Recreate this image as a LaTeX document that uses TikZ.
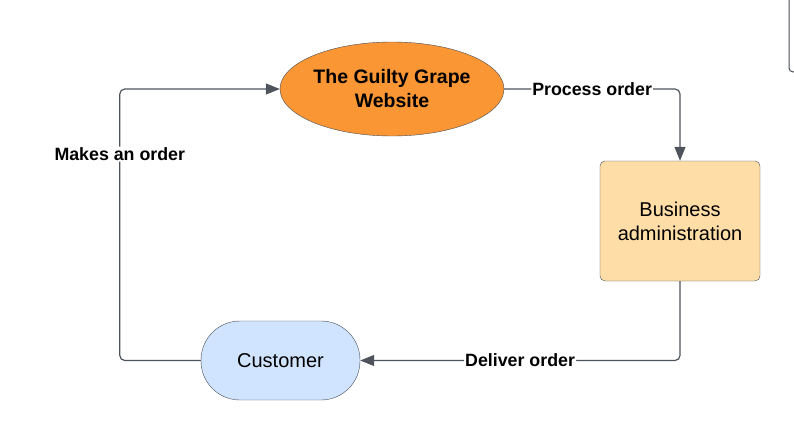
\documentclass[tikz,border=0pt]{standalone}
\usepackage{fontspec}
\setmainfont{Liberation Sans}
\usetikzlibrary{arrows.meta, shapes.geometric, positioning}
\definecolor{grapeorange}{HTML}{FB9634}
\definecolor{adminfill}{HTML}{FFDDA6}
\definecolor{custfill}{HTML}{D0E4FF}
\definecolor{edgegray}{HTML}{474D56}
\definecolor{linegray}{HTML}{4E545C}

\begin{document}
\begin{tikzpicture}[x=1pt, y=-1pt,
    site/.style={ellipse, draw=edgegray, fill=grapeorange,
                 minimum width=224pt, minimum height=94pt, inner sep=0pt,
                 align=center, font=\fontsize{19.5}{24}\selectfont\bfseries},
    admin/.style={rectangle, draw=edgegray, fill=adminfill, rounded corners=5pt,
                  minimum width=160pt, minimum height=120pt,
                  align=center, font=\fontsize{20}{24}\selectfont},
    cust/.style={rectangle, draw=edgegray, fill=custfill, rounded corners=39pt,
                 minimum width=159pt, minimum height=79pt,
                 font=\fontsize{20}{24}\selectfont},
    lbl/.style={fill=white, text=black, inner sep=1pt,
                font=\fontsize{17.8}{20}\selectfont\bfseries},
    arr/.style={-{Triangle[length=14pt, width=11pt]}, line width=1.2pt,
                linegray, rounded corners=5pt}
  ]
  \useasboundingbox (0,0) rectangle (794,441);

  \node[site] (site) at (392,89) {The Guilty Grape\\Website};
  \node[admin] (admin) at (680,221) {Business\\administration};
  \node[cust] (cust) at (280.5,360.5) {Customer};

  \draw[arr] (site.east) -| node[lbl, pos=0.25] {Process order} (admin.north);
  \draw[arr] (admin.south) |- node[lbl, pos=0.75] {Deliver order} (cust.east);
  \draw[arr] (cust.west) -- ++(-81,0) |- node[lbl, pos=0.38] {Makes an order} (site.west);

  % cut-off shape at the right edge
  \draw[edgegray, line width=1pt, rounded corners=4pt] (789,-2) -- (789,72) -- (797,72);
\end{tikzpicture}
\end{document}
